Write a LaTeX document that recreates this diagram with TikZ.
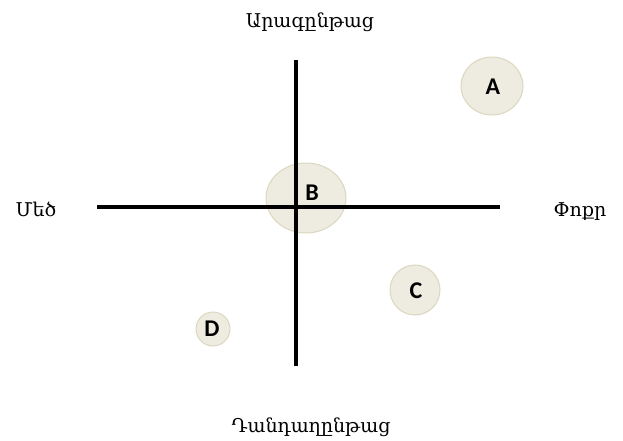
\documentclass[tikz,border=0pt]{standalone}
\usepackage{fontspec}
\setmainfont{DejaVu Serif}
\newfontfamily\lblfont{Carlito}
\usepackage{xcolor}
\definecolor{bubblefill}{HTML}{EEEBE0}
\definecolor{bubbleline}{HTML}{DCD7BF}
\tikzset{
  bubble/.style={fill=bubblefill,draw=bubbleline,line width=1pt},
  tag/.style={font=\lblfont\bfseries\fontsize{24}{24}\selectfont},
  axlabel/.style={anchor=base,font=\fontsize{19}{19}\selectfont}
}

\begin{document}
\begin{tikzpicture}[x=1pt,y=-1pt]
  \useasboundingbox (0,0) rectangle (623,441);
  \coordinate (L) at (97,207); \coordinate (R) at (500,207);
  \coordinate (T) at (296,60); \coordinate (Bt) at (296,366);
  \draw[bubble] (492,86) ellipse (31 and 29);
  \draw[bubble] (306,198) ellipse (40 and 35);
  \draw[bubble] (415,290) circle (25);
  \draw[bubble] (213,329) circle (17);
  \draw[line width=4pt] (L)--(R);
  \draw[line width=4pt] (T)--(Bt);
  \node[tag] (a) at (493,87){A}; \node[tag] (b) at (312,193){B};
  \node[tag] (c) at (416,291){C}; \node[tag] (d) at (212,329){D};
  \node[axlabel] (top) at (310,28){Արագընթաց};
  \node[axlabel] (bot) at (311,432){Դանդաղընթաց};
  \node[axlabel] (lft) at (36,216){Մեծ};
  \node[axlabel] (rgt) at (580,216){Փոքր};
\end{tikzpicture}
\end{document}
